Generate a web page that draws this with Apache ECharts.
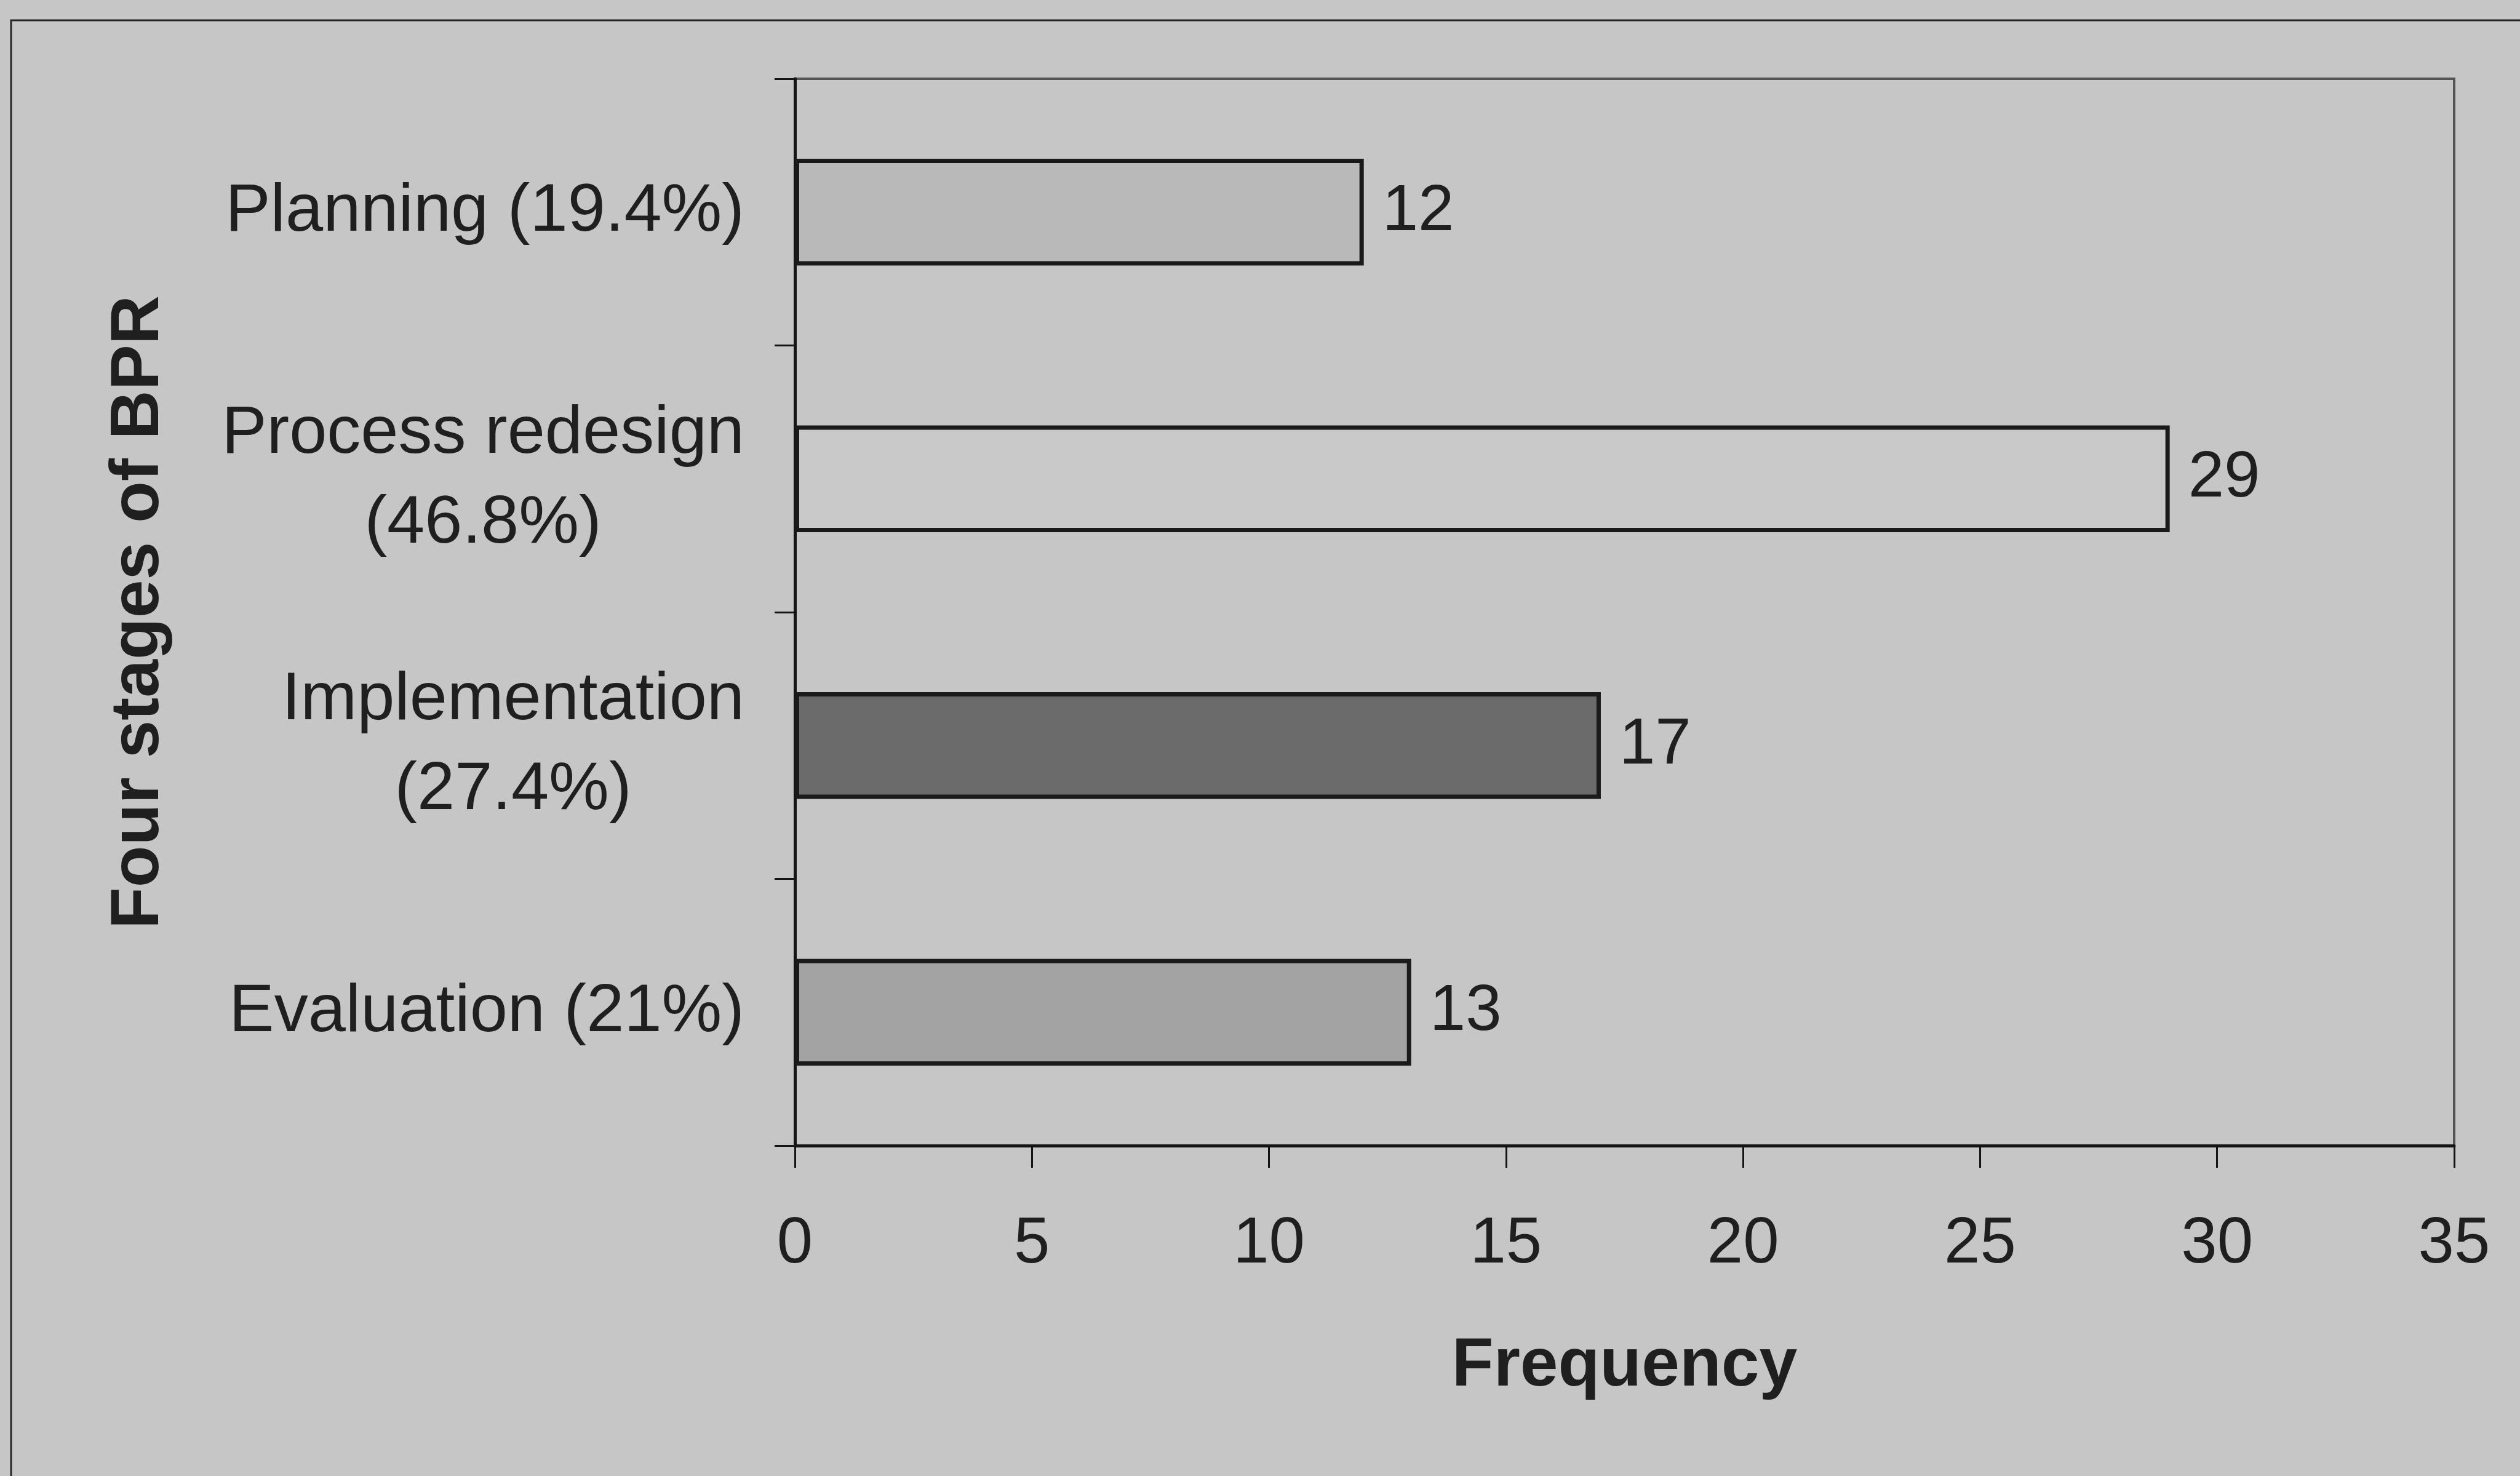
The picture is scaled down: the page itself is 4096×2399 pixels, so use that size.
<!DOCTYPE html>
<html>
<head>
<meta charset="utf-8">
<script src="https://cdn.jsdelivr.net/npm/echarts@6/dist/echarts.min.js"></script>
<style>
  html, body { margin: 0; padding: 0; background: #c6c6c6; }
  #chart { width: 4096px; height: 2399px; }
</style>
</head>
<body>
<div id="chart"></div>
<script>
// Stages of business process re-engineering, with their share of responses
const categories = [
  'Planning (19.4%)',
  'Process redesign\n(46.8%)',
  'Implementation\n(27.4%)',
  'Evaluation (21%)'
];
const frequency = [12, 29, 17, 13];
const barFills = ['#b9b9b9', '#c9c9c9', '#6b6b6b', '#a3a3a3'];
const xMin = 0;
const xMax = 35;
const xStep = 5;

const FONT = "'Liberation Sans', Arial, Helvetica, sans-serif";
const INK = '#1f1f1f';
const TEXT_SIZE = 105;
const CATEGORY_SIZE = 110;
const TITLE_SIZE = 111;

const chart = echarts.init(document.getElementById('chart'), null, { renderer: 'canvas' });

chart.setOption({
  animation: false,
  backgroundColor: '#c6c6c6',
  textStyle: { fontFamily: FONT, color: INK },
  grid: {
    left: 1292, right: 107, top: 128, bottom: 537,
    show: true,
    borderColor: '#555555',
    borderWidth: 4,
    backgroundColor: 'transparent'
  },
  graphic: [{
    type: 'rect',
    silent: true,
    z: -10,
    shape: { x: 18, y: 33, width: 4300, height: 2600 },
    style: { fill: null, stroke: '#262626', lineWidth: 3 }
  }],
  xAxis: {
    type: 'value',
    min: xMin,
    max: xMax,
    interval: xStep,
    name: 'Frequency',
    nameLocation: 'middle',
    nameGap: 304,
    nameTextStyle: { fontFamily: FONT, fontWeight: 'bold', fontSize: TITLE_SIZE, color: INK },
    splitLine: { show: false },
    axisLine: { show: true, lineStyle: { color: '#141414', width: 5 } },
    axisTick: { show: true, inside: false, length: 36, lineStyle: { color: '#141414', width: 3 } },
    axisLabel: { margin: 109, fontFamily: FONT, fontSize: TEXT_SIZE, color: INK }
  },
  yAxis: {
    type: 'category',
    inverse: true,
    data: categories,
    name: 'Four stages of BPR',
    nameLocation: 'middle',
    nameGap: 1010,
    nameTextStyle: { fontFamily: FONT, fontWeight: 'bold', fontSize: TITLE_SIZE, color: INK },
    axisLine: { show: true, lineStyle: { color: '#141414', width: 5 } },
    axisTick: { show: true, inside: false, length: 33, lineStyle: { color: '#141414', width: 3 } },
    axisLabel: {
      margin: 82,
      align: 'right',
      formatter: function (value) {
        return value.split('\n').map(function (line) { return '{c|' + line + '}'; }).join('\n');
      },
      rich: {
        c: { align: 'center', fontFamily: FONT, fontSize: CATEGORY_SIZE, lineHeight: 146, color: INK }
      }
    },
    splitLine: { show: false }
  },
  series: [{
    type: 'bar',
    barCategoryGap: '60%',
    data: frequency.map(function (v, i) {
      return { value: v, itemStyle: { color: barFills[i] } };
    }),
    itemStyle: { borderColor: '#1a1a1a', borderWidth: 7 },
    label: {
      show: true,
      position: 'right',
      distance: 30,
      fontFamily: FONT,
      fontSize: TEXT_SIZE,
      color: INK
    }
  }]
});
</script>
</body>
</html>
